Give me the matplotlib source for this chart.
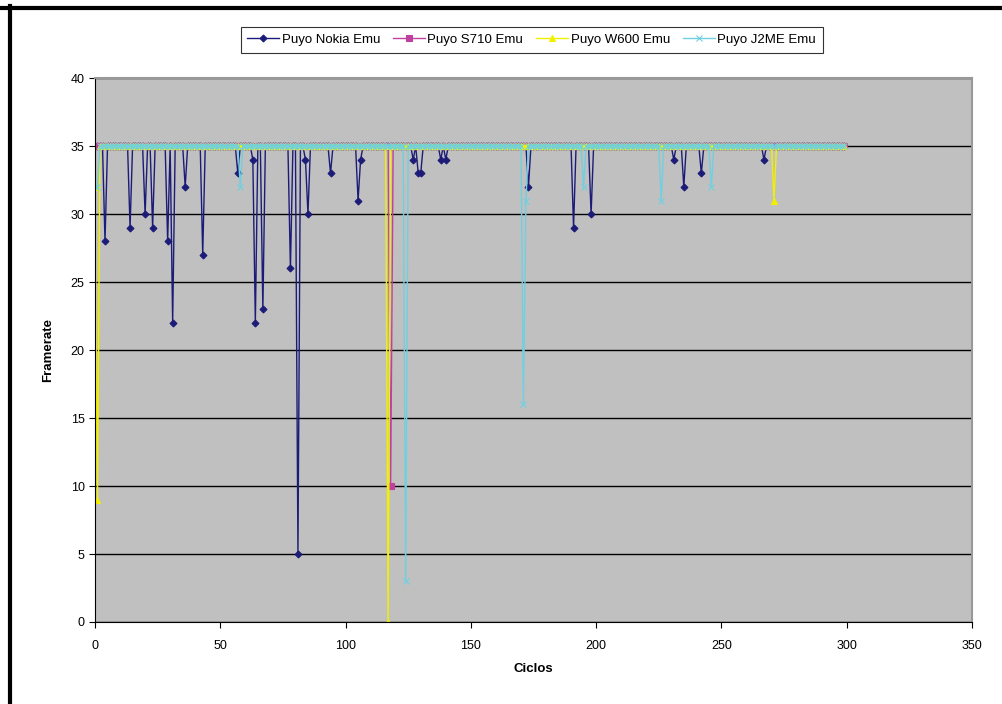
import numpy as np
import matplotlib
matplotlib.use("Agg")
import matplotlib.pyplot as plt
from matplotlib.lines import Line2D

plt.rcParams['font.family'] = ['Liberation Sans', 'DejaVu Sans']

# frame rate per cycle, 35 except where a dip was logged
n_cycles = 300
base_rate = 35

nokia_dip_x = [4, 14, 20, 23, 29, 31, 36, 43, 57, 63, 64, 67, 78, 81, 84, 85,
               94, 105, 106, 127, 129, 130, 138, 140, 173, 191, 198, 231, 235,
               242, 267]
nokia_dip_y = [28, 29, 30, 29, 28, 22, 32, 27, 33, 34, 22, 23, 26, 5, 34, 30,
               33, 31, 34, 34, 33, 33, 34, 34, 32, 29, 30, 34, 32, 33, 34]

s710_dip_x = [118]
s710_dip_y = [10]

w600_dip_x = [0, 1, 117, 271]
w600_dip_y = [32, 9, 0, 31]

j2me_dip_x = [0, 1, 58, 124, 171, 172, 195, 226, 246]
j2me_dip_y = [32, 32, 32, 3, 16, 31, 32, 31, 32]

series_names = ["Puyo Nokia Emu", "Puyo S710 Emu", "Puyo W600 Emu", "Puyo J2ME Emu"]


def build(dip_x, dip_y):
    vals = np.full(n_cycles, base_rate, dtype=float)
    vals[dip_x] = dip_y
    return vals


cycles = np.arange(n_cycles)
series = [build(nokia_dip_x, nokia_dip_y), build(s710_dip_x, s710_dip_y),
          build(w600_dip_x, w600_dip_y), build(j2me_dip_x, j2me_dip_y)]
colors = ['#1c1c78', '#c040a0', '#f2f000', '#70d0e0']
markers = ['D', 's', '^', 'x']
msizes = [3.5, 4, 4.5, 4]

fig = plt.figure(figsize=(10.02, 7.04), dpi=100)
ax = fig.add_axes([0.0948, 0.1165, 0.8752, 0.7725])
ax.set_facecolor('#c0c0c0')

for vals, name, c, m, ms in zip(series, series_names, colors, markers, msizes):
    ax.plot(cycles, vals, color=c, marker=m, markersize=ms, linewidth=1.0,
            markeredgewidth=0.8, label=name)

ax.set_xlim(0, 350)
ax.set_ylim(0, 40)
ax.set_xticks(range(0, 351, 50))
ax.set_yticks(range(0, 41, 5))
ax.yaxis.grid(True, color='black', linewidth=1.0)
ax.set_axisbelow(True)
ax.tick_params(labelsize=9, length=4, color='black')
ax.tick_params(axis='x', pad=9)
for s in ['top', 'right']:
    ax.spines[s].set_color('#999999')
    ax.spines[s].set_linewidth(1.5)
ax.spines['left'].set_color('black')
ax.spines['bottom'].set_color('black')

ax.set_xlabel("Ciclos", fontsize=9.5, fontweight='bold', labelpad=8)
ax.set_ylabel("Framerate", fontsize=9.5, fontweight='bold', labelpad=12)

leg = ax.legend(loc='upper center', bbox_to_anchor=(0.498, 1.106), ncol=4,
                fontsize=9.5, frameon=True, fancybox=False, edgecolor='black',
                handlelength=2.4, handletextpad=0.2, columnspacing=1.0,
                borderpad=0.5)
leg.get_frame().set_linewidth(0.8)

# black frame of the screenshot
fig.add_artist(Line2D([0, 1], [1 - 8 / 704, 1 - 8 / 704], color='black',
                      linewidth=3.0, transform=fig.transFigure))
fig.add_artist(Line2D([10 / 1002, 10 / 1002], [0, 1 - 6 / 704], color='black',
                      linewidth=3.0, transform=fig.transFigure))

fig.savefig("out.png", dpi=100)
